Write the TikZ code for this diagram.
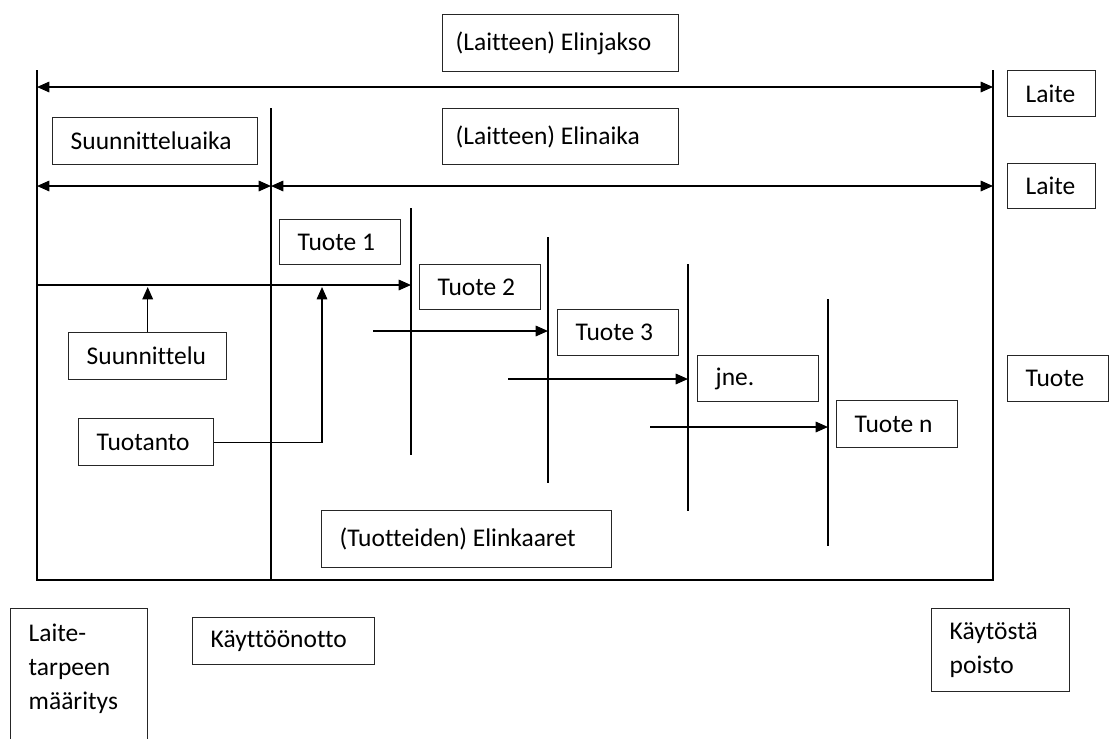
\documentclass[tikz,border=0pt]{standalone}
\usepackage{fontspec}
\setmainfont{Carlito}[Ligatures=CommonOff]
\usetikzlibrary{arrows.meta}
\tikzset{>={Triangle[length=7pt,width=6pt]}}
\tikzset{
  box/.style 2 args={draw=black!85, anchor=north west, align=flush left,
    inner xsep=0.36cm, minimum width=#1*0.02cm, minimum height=#2*0.02cm,
    text width=#1*0.02cm-0.72cm}
}

\begin{document}
\begin{tikzpicture}[x=0.02cm, y=-0.02cm, line width=0.8pt,
    font=\fontsize{14.5}{19.5}\selectfont]
  \useasboundingbox (0,0) rectangle (1109,738);

  % frame of the device life
  \coordinate (tl) at (37,70);
  \coordinate (bl) at (37,580);
  \coordinate (br) at (993,580);
  \coordinate (tr) at (993,70);
  \coordinate (use) at (271,108);
  \draw (tl) -- (bl) -- (br) -- (tr);
  \draw (use) -- (use |- bl);

  % spans
  \draw[<->] (37,87) -- (993,87);
  \draw[<->] (37,186) -- (271,186);
  \draw[<->] (271,186) -- (993,186);

  % boxes on top
  \node[box={236}{57}, inner xsep=0.26cm, text width=4.2cm] (jakso) at (442,14) {(Laitteen) Elinjakso};
  \node[box={236}{56}, inner xsep=0.26cm, text width=4.2cm] (aika) at (442,108) {(Laitteen) Elinaika};
  \node[box={205}{47}] (suaika) at (52,117) {Suunnitteluaika};
  \node[box={88}{46}] (laite1) at (1007,70) {Laite};
  \node[box={88}{45}] (laite2) at (1007,163) {Laite};

  % products
  \node[box={121}{45}] (tuote1) at (279,219) {Tuote 1};
  \node[box={121}{45}] (tuote2) at (419,264) {Tuote 2};
  \node[box={121}{46}] (tuote3) at (557,309) {Tuote 3};
  \node[box={121}{46}] (jne) at (697,355) {jne.};
  \node[box={121}{47}] (tuoten) at (836,400) {Tuote n};
  \node[box={101}{46}] (tuote) at (1007,355) {Tuote};
  \node[box={290}{57}] (kaaret) at (321,510) {(Tuotteiden) Elinkaaret};

  \coordinate (p1) at (411,208);
  \coordinate (p2) at (548,237);
  \coordinate (p3) at (688,264);
  \coordinate (p4) at (828,299);
  \draw (p1) -- (411,455);
  \draw (p2) -- (548,483);
  \draw (p3) -- (688,511);
  \draw (p4) -- (828,546);

  \coordinate (m0) at (37,285);
  \draw[->] (m0) -- (p1 |- m0);
  \draw[->] (373,331) -- (p2 |- 0,331);
  \draw[->] (508,379) -- (p3 |- 0,379);
  \draw[->] (650,427) -- (p4 |- 0,427);

  % design and production
  \node[box={158}{47}] (suun) at (68,332) {Suunnittelu};
  \node[box={135}{47}] (tuotanto) at (78,418) {Tuotanto};
  \coordinate (prod) at (322,287);
  \draw[->] (suun) -- (suun |- prod);
  \draw[->] (tuotanto.east) -| (prod);

  % milestones below
  \node[box={137}{40}, inner ysep=0.3cm, text depth=2.6cm] (tarve) at (10,608) {Laite-\\tarpeen\\määritys};
  \node[box={182}{47}] (kaytto) at (192,617) {Käyttöönotto};
  \node[box={138}{83}] (poisto) at (931,608) {Käytöstä\\poisto};
\end{tikzpicture}
\end{document}
